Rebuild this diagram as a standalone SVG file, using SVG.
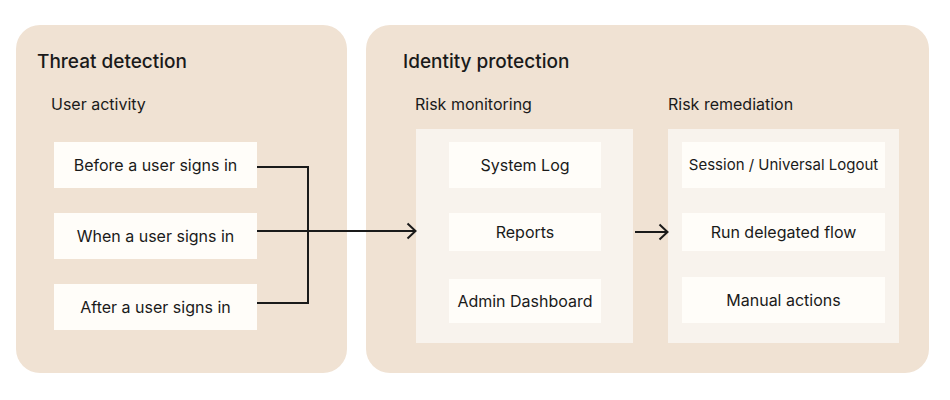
<svg xmlns="http://www.w3.org/2000/svg" width="950" height="400" viewBox="0 0 950 400">
<defs>
<style>
.panel{fill:#f0e2d3}
.cont{fill:#f8f3ed}
.box{fill:#fffdf9}
text{font-family:Inter,"Liberation Sans",sans-serif;fill:#1a1a1a}
.h1{font-size:19px;font-weight:500}
.h2{font-size:16px}
.t{font-size:16px;text-anchor:middle}
.s{font-size:15px}
.ln{fill:none;stroke:#1a1a1a;stroke-width:2}
</style>
<marker id="arr" viewBox="0 0 12 18" refX="10.5" refY="9" markerWidth="12" markerHeight="18" markerUnits="userSpaceOnUse" orient="auto">
<path d="M2,1.5 L10,9 L2,16.5" fill="none" stroke="#1a1a1a" stroke-width="2"/>
</marker>
</defs>
<rect width="950" height="400" fill="#ffffff"/>
<g id="threat-detection">
<rect class="panel" x="16" y="25" width="331" height="348" rx="24"/>
<text class="h1" x="37" y="68">Threat detection</text>
<text class="h2" x="51" y="110">User activity</text>
</g>
<g id="before">
<rect class="box" x="54" y="142" width="203" height="46"/>
<text class="t" x="155.5" y="171">Before a user signs in</text>
</g>
<g id="when">
<rect class="box" x="54" y="213" width="203" height="46"/>
<text class="t" x="155.5" y="242">When a user signs in</text>
</g>
<g id="after">
<rect class="box" x="54" y="284" width="203" height="46"/>
<text class="t" x="155.5" y="313">After a user signs in</text>
</g>
<g id="identity-protection">
<rect class="panel" x="366" y="25" width="563" height="348" rx="24"/>
<text class="h1" x="403" y="68">Identity protection</text>
<text class="h2" x="415" y="110">Risk monitoring</text>
<text class="h2" x="668" y="110">Risk remediation</text>
</g>
<g id="risk-monitoring">
<rect class="cont" x="416" y="129" width="217" height="214"/>
</g>
<g id="system-log">
<rect class="box" x="449" y="142" width="152" height="46"/>
<text class="t" x="525" y="171">System Log</text>
</g>
<g id="reports">
<rect class="box" x="449" y="213" width="152" height="38"/>
<text class="t" x="525" y="238">Reports</text>
</g>
<g id="admin-dashboard">
<rect class="box" x="449" y="279" width="152" height="44"/>
<text class="t" x="525" y="307">Admin Dashboard</text>
</g>
<g id="risk-remediation">
<rect class="cont" x="668" y="129" width="231" height="214"/>
</g>
<g id="logout">
<rect class="box" x="682" y="142" width="203" height="46"/>
<text class="t s" x="783.5" y="170">Session / Universal Logout</text>
</g>
<g id="delegated">
<rect class="box" x="682" y="213" width="203" height="38"/>
<text class="t" x="783.5" y="238">Run delegated flow</text>
</g>
<g id="manual">
<rect class="box" x="682" y="277" width="203" height="46"/>
<text class="t" x="783.5" y="306">Manual actions</text>
</g>
<g id="connectors">
<path class="ln" d="M257,167 H308 V303 H257"/>
<path class="ln" d="M257,231 H416" marker-end="url(#arr)"/>
<path class="ln" d="M635,232 H668" marker-end="url(#arr)"/>
</g>
</svg>
